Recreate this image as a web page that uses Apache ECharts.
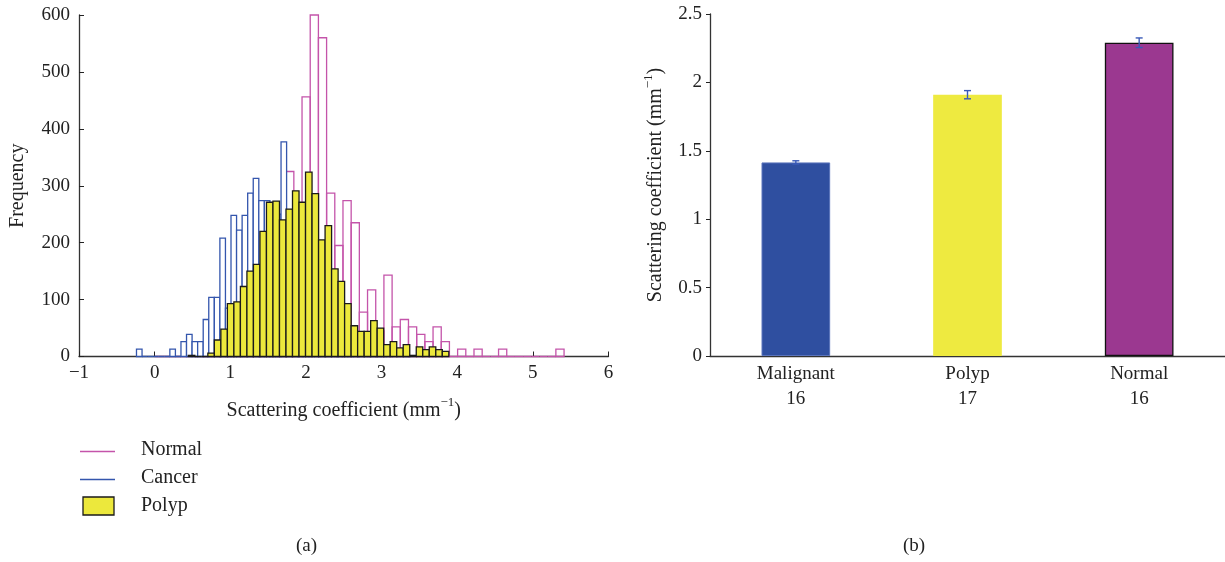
<!DOCTYPE html>
<html>
<head>
<meta charset="utf-8">
<script src="https://cdn.jsdelivr.net/npm/echarts@6/dist/echarts.min.js"></script>
<style>
html,body{margin:0;padding:0;background:#fff;}
#chart{width:1225px;height:562px;}
</style>
</head>
<body>
<div id="chart"></div>
<script>
// ---------- Panel (a): histograms ----------
const normalStart = 0.0, normalBinWidth = 0.10825;
const normalCounts = [0,0,0,0,1,2,4,8,14,22, 35,50,70,95,130,180,325,270,456,600, 560,287,195,274,235,78,117,45,143,52, 65,52,39,26,52,26,0,13,0,13, 0,0,13,0,0,0,0,0,0,13];
const cancerStart = -0.24, cancerBinWidth = 0.0735;
const cancerCounts = [13,0,0,0,0,0,13,0,26,39, 26,26,65,104,104,208,85,248,222,248, 287,313,274,274,255,250,377,240,215,190, 165,140,115,95,78,62,48,36,28,20, 14,10,7,5,3,2,1,1,0,1];
const polypStart = 0.445, polypBinWidth = 0.0861;
const polypCounts = [2,0,0,6,29,48,93,96,123,150, 162,220,271,273,240,259,291,271,324,286, 205,230,154,132,93,54,44,44,63,50, 21,26,15,21,2,17,12,17,12,9];
const histXTicks = [-1,0,1,2,3,4,5,6];
const histYTicks = [0,100,200,300,400,500,600];
const legendNames = ['Normal','Cancer','Polyp'];

// ---------- Panel (b): bar chart ----------
const groups = ['Malignant','Polyp','Normal'];
const groupN = [16,17,16];
const groupMeans = [1.415,1.91,2.29];
const groupErrors = [0.012,0.03,0.035];

const FONT = 'Liberation Serif';
const PINK = '#c454aa', BLUE = '#3456ad', YELLOW = '#ece83c', EDGE = '#1a1a1a';

function binsOf(start, w, counts){
  return counts.map((c,i)=>[start + i*w, start + (i+1)*w, c]);
}
function histRender(stroke, fill, lw){
  return function(params, api){
    const p0 = api.coord([api.value(0), api.value(2)]);
    const p1 = api.coord([api.value(1), 0]);
    return {
      type:'rect',
      shape:{x:p0[0], y:p0[1], width:p1[0]-p0[0], height:p1[1]-p0[1]},
      style:{fill:fill, stroke:stroke, lineWidth:lw}
    };
  };
}

const chart = echarts.init(document.getElementById('chart'), null, {renderer:'canvas'});
const supRich = {
  m:{fontFamily:FONT,fontSize:20,color:'#222',lineHeight:24,verticalAlign:'bottom'},
  s:{fontFamily:FONT,fontSize:13,color:'#222',lineHeight:14,verticalAlign:'top'}
};
const sciName = '{m|Scattering coefficient (mm}{s|\u22121}{m|)}';

chart.setOption({
  animation:false,
  grid:[
    {left:79, top:15, width:529.5, height:341.5},
    {left:710, top:14, width:516, height:342}
  ],
  xAxis:[
    {gridIndex:0, type:'value', min:histXTicks[0], max:histXTicks[histXTicks.length-1], interval:1,
     axisLine:{onZero:false,lineStyle:{color:'#333',width:1.3}},
     axisTick:{inside:true,length:5,lineStyle:{color:'#222'}},
     splitLine:{show:false},
     axisLabel:{margin:7,fontFamily:FONT,fontSize:19,color:'#222',
       formatter:v=> v<0 ? '\u2212'+Math.abs(v) : String(v)},
     name:sciName, nameLocation:'middle', nameGap:40,
     nameTextStyle:{rich:supRich}
    },
    {gridIndex:1, type:'category', data:groups,
     axisLine:{lineStyle:{color:'#333',width:1.3}},
     axisTick:{show:false},
     axisLabel:{margin:6,fontFamily:FONT,fontSize:19,color:'#222',lineHeight:25,
       formatter:(v,i)=> v+'\n'+groupN[i]}
    }
  ],
  yAxis:[
    {gridIndex:0, type:'value', min:histYTicks[0], max:histYTicks[histYTicks.length-1], interval:100,
     axisLine:{show:true,onZero:false,lineStyle:{color:'#333',width:1.3}},
     axisTick:{show:true,inside:true,length:5,lineStyle:{color:'#222'}},
     splitLine:{show:false},
     axisLabel:{margin:9,fontFamily:FONT,fontSize:19,color:'#222'},
     name:'Frequency', nameLocation:'middle', nameGap:51, nameRotate:90,
     nameTextStyle:{fontFamily:FONT,fontSize:20,color:'#222'}
    },
    {gridIndex:1, type:'value', min:0, max:2.5, interval:0.5,
     axisLine:{show:true,onZero:false,lineStyle:{color:'#333',width:1.3}},
     axisTick:{show:true,length:4,lineStyle:{color:'#222'}},
     splitLine:{show:false},
     axisLabel:{margin:8,fontFamily:FONT,fontSize:19,color:'#222'},
     name:sciName, nameLocation:'middle', nameGap:44, nameRotate:90,
     nameTextStyle:{rich:supRich}
    }
  ],
  series:[
    {name:legendNames[0], type:'custom', xAxisIndex:0, yAxisIndex:0, z:2,
     renderItem:histRender(PINK,'rgba(255,255,255,0)',1.3),
     encode:{x:[0,1], y:2},
     data:binsOf(normalStart, normalBinWidth, normalCounts)},
    {name:legendNames[1], type:'custom', xAxisIndex:0, yAxisIndex:0, z:3,
     renderItem:histRender(BLUE,'#ffffff',1.3),
     encode:{x:[0,1], y:2},
     data:binsOf(cancerStart, cancerBinWidth, cancerCounts)},
    {name:legendNames[2], type:'custom', xAxisIndex:0, yAxisIndex:0, z:4,
     renderItem:histRender(EDGE,YELLOW,1.3),
     encode:{x:[0,1], y:2},
     data:binsOf(polypStart, polypBinWidth, polypCounts)},
    {type:'bar', xAxisIndex:1, yAxisIndex:1, barWidth:'40%', z:2,
     data:groupMeans.map((m,i)=>({value:m, itemStyle:[
       {color:'#2f4fa0', borderColor:'#5a74bc', borderWidth:1},
       {color:'#eeea40', borderColor:'#eeea40', borderWidth:0},
       {color:'#9b3890', borderColor:'#111', borderWidth:1.3}][i]}))},
    {type:'custom', xAxisIndex:1, yAxisIndex:1, z:5,
     encode:{x:0, y:[1]},
     data:groupMeans.map((m,i)=>[i, m, groupErrors[i]]),
     renderItem:function(params, api){
       const i = api.value(0), m = api.value(1), e = api.value(2);
       const top = api.coord([i, m+e]);
       const bot = api.coord([i, m-e]);
       const cap = 3.5;
       const st = {stroke:'#3a5ab8', lineWidth:1.4};
       return {type:'group', children:[
         {type:'line', shape:{x1:top[0],y1:top[1],x2:bot[0],y2:bot[1]}, style:st},
         {type:'line', shape:{x1:top[0]-cap,y1:top[1],x2:top[0]+cap,y2:top[1]}, style:st},
         {type:'line', shape:{x1:bot[0]-cap,y1:bot[1],x2:bot[0]+cap,y2:bot[1]}, style:st}
       ]};
     }}
  ],
  graphic:[
    {type:'line', shape:{x1:80,y1:451.5,x2:115,y2:451.5}, style:{stroke:PINK,lineWidth:1.4}},
    {type:'line', shape:{x1:80,y1:479.5,x2:115,y2:479.5}, style:{stroke:BLUE,lineWidth:1.4}},
    {type:'rect', shape:{x:83,y:497,width:31,height:18}, style:{fill:YELLOW,stroke:EDGE,lineWidth:1.3}},
    {type:'text', left:141, top:440, style:{text:legendNames[0],font:'20px "Liberation Serif"',fill:'#222'}},
    {type:'text', left:141, top:468, style:{text:legendNames[1],font:'20px "Liberation Serif"',fill:'#222'}},
    {type:'text', left:141, top:496, style:{text:legendNames[2],font:'20px "Liberation Serif"',fill:'#222'}},
    {type:'text', left:296, top:537, style:{text:'(a)',font:'19px "Liberation Serif"',fill:'#222'}},
    {type:'text', left:903, top:537, style:{text:'(b)',font:'19px "Liberation Serif"',fill:'#222'}}
  ]
});
</script>
</body>
</html>
